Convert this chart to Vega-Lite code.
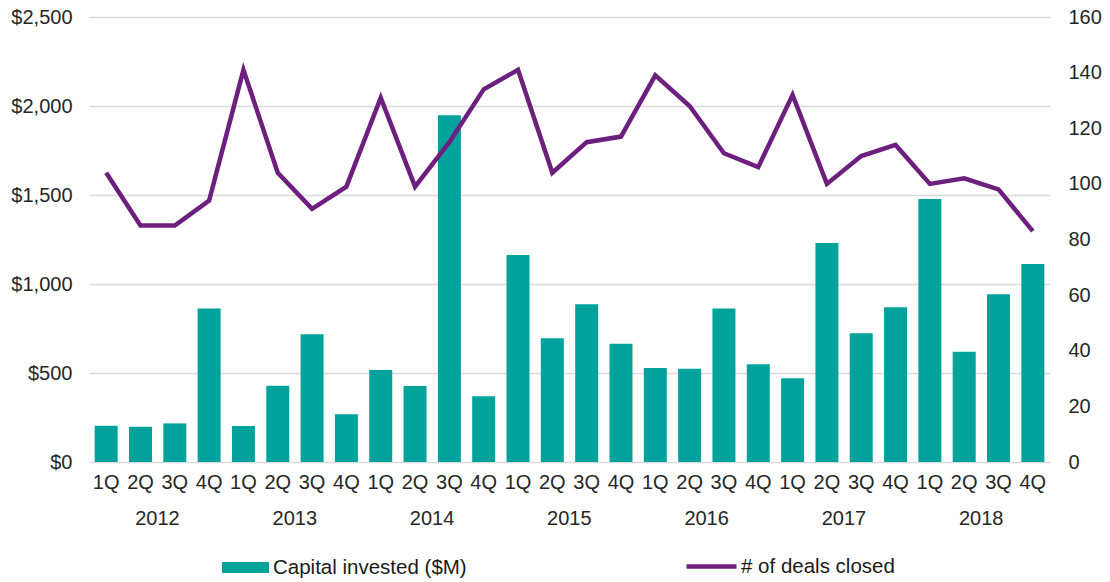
{
  "$schema": "https://vega.github.io/schema/vega-lite/v6.json",
  "width": 961,
  "height": 445,
  "autosize": {"type": "none"},
  "padding": {"left": 89, "top": 17, "right": 60, "bottom": 120},
  "config": {
    "font": "Liberation Sans",
    "view": {"stroke": null},
    "axis": {"labelFont": "Liberation Sans", "labelFontSize": 20, "labelColor": "#262626", "domain": false, "ticks": false, "title": null},
    "legend": {"labelFont": "Liberation Sans", "labelFontSize": 20.5, "labelColor": "#1a1a1a", "title": null, "labelLimit": 400}
  },
  "data": {"values": [
    {"period": "2012 1Q", "capital": 204, "deals": 104},
    {"period": "2012 2Q", "capital": 198, "deals": 85},
    {"period": "2012 3Q", "capital": 217, "deals": 85},
    {"period": "2012 4Q", "capital": 863, "deals": 94},
    {"period": "2013 1Q", "capital": 202, "deals": 141},
    {"period": "2013 2Q", "capital": 429, "deals": 104},
    {"period": "2013 3Q", "capital": 717, "deals": 91},
    {"period": "2013 4Q", "capital": 268, "deals": 99},
    {"period": "2014 1Q", "capital": 517, "deals": 131},
    {"period": "2014 2Q", "capital": 427, "deals": 99},
    {"period": "2014 3Q", "capital": 1948, "deals": 115},
    {"period": "2014 4Q", "capital": 369, "deals": 134},
    {"period": "2015 1Q", "capital": 1163, "deals": 141},
    {"period": "2015 2Q", "capital": 695, "deals": 104},
    {"period": "2015 3Q", "capital": 886, "deals": 115},
    {"period": "2015 4Q", "capital": 665, "deals": 117},
    {"period": "2016 1Q", "capital": 528, "deals": 139},
    {"period": "2016 2Q", "capital": 524, "deals": 128},
    {"period": "2016 3Q", "capital": 863, "deals": 111},
    {"period": "2016 4Q", "capital": 549, "deals": 106},
    {"period": "2017 1Q", "capital": 470, "deals": 132},
    {"period": "2017 2Q", "capital": 1230, "deals": 100},
    {"period": "2017 3Q", "capital": 723, "deals": 110},
    {"period": "2017 4Q", "capital": 869, "deals": 114},
    {"period": "2018 1Q", "capital": 1478, "deals": 100},
    {"period": "2018 2Q", "capital": 620, "deals": 102},
    {"period": "2018 3Q", "capital": 942, "deals": 98},
    {"period": "2018 4Q", "capital": 1112, "deals": 83}
  ]},
  "layer": [
    {
      "mark": {"type": "bar", "color": "#00A39B"},
      "encoding": {
        "x": {"field": "period", "type": "ordinal", "sort": null,
          "scale": {"paddingInner": 0.33, "paddingOuter": 0.165},
          "axis": {"orient": "bottom", "labelExpr": "slice(datum.value,5)", "labelPadding": 10, "labelAngle": 0, "grid": false, "labelOverlap": false}},
        "y": {"field": "capital", "type": "quantitative",
          "scale": {"domain": [0, 2500]},
          "axis": {"orient": "left", "values": [0, 500, 1000, 1500, 2000, 2500], "format": "$,.0f", "labelPadding": 17, "grid": true, "gridColor": "#d9d9d9", "gridWidth": 1.5}},
        "fill": {"datum": "Capital invested ($M)", "type": "nominal",
          "scale": {"range": ["#00A39B"]},
          "legend": {"orient": "none", "legendX": 133, "legendY": 527, "symbolType": "M-1,-0.234H1V0.234H-1Z", "symbolSize": 2209, "symbolStrokeWidth": 0, "labelOffset": 4}}
      }
    },
    {
      "mark": {"type": "line", "strokeWidth": 4.5, "color": "#6C1F7D"},
      "encoding": {
        "x": {"field": "period", "type": "ordinal", "sort": null,
          "axis": {"orient": "bottom", "labelExpr": "indexof(datum.value,'2Q')>=0 ? slice(datum.value,0,4) : ''", "labelOffset": 17, "labelPadding": 46, "labelAngle": 0, "grid": false, "labelOverlap": false}},
        "y": {"field": "deals", "type": "quantitative",
          "scale": {"domain": [0, 160]},
          "axis": {"orient": "right", "values": [0, 20, 40, 60, 80, 100, 120, 140, 160], "labelPadding": 18, "grid": false}},
        "stroke": {"datum": "# of deals closed", "type": "nominal",
          "scale": {"range": ["#6C1F7D"]},
          "legend": {"orient": "none", "legendX": 595, "legendY": 522, "symbolType": "stroke", "symbolSize": 2500, "symbolStrokeWidth": 4.5, "labelOffset": 2}}
      }
    }
  ],
  "resolve": {"scale": {"y": "independent"}, "axis": {"x": "independent"}}
}
